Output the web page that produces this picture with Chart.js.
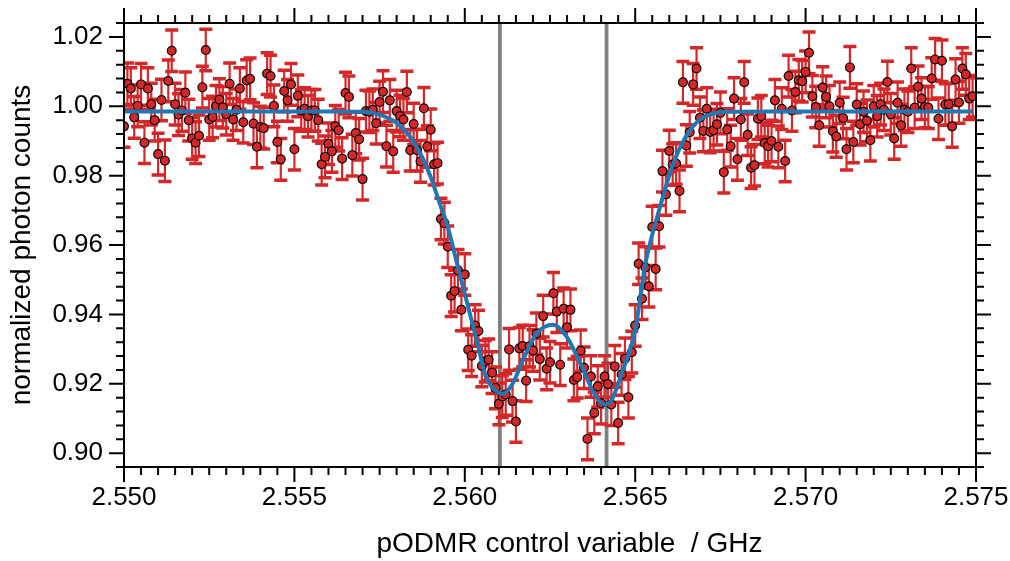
<!DOCTYPE html>
<html>
<head>
<meta charset="utf-8">
<script src="https://cdn.jsdelivr.net/npm/chart.js@4.4.0/dist/chart.umd.min.js"></script>
<style>
  html, body { margin: 0; padding: 0; background: #fff; }
  #wrap { width: 1010px; height: 561px; }
</style>
</head>
<body>
<div id="wrap"><canvas id="chart" width="1010" height="561"></canvas></div>
<script>
// sweep: 250 points, 0.1 MHz apart, starting at 2.5500 GHz
const freqStart = 2.5500;
const freqStep = 0.0001;
const counts = [
  0.9942, 1.0065, 1.0051, 0.9968, 1.0001, 1.0063, 0.9895, 1.0051, 1.0006, 0.9960,
  0.9862, 1.0018, 0.9843, 1.0073, 1.0160, 1.0006, 0.9976, 0.9988, 1.0039, 0.9960,
  0.9907, 0.9895, 0.9915, 1.0055, 1.0162, 0.9962, 0.9969, 1.0000, 1.0019, 0.9997,
  0.9977, 1.0065, 0.9962, 0.9990, 1.0051, 0.9954, 1.0074, 1.0079, 0.9950, 0.9883,
  0.9940, 0.9937, 1.0094, 1.0087, 1.0001, 0.9897, 0.9847, 1.0044, 1.0017, 1.0063,
  0.9876, 1.0030, 0.9988, 0.9993, 0.9971, 0.9988, 0.9988, 0.9960, 0.9833, 0.9854,
  0.9892, 0.9870, 0.9942, 0.9931, 0.9849, 1.0038, 1.0027, 0.9859, 0.9923, 0.9905,
  0.9790, 0.9986, 0.9984, 0.9990, 0.9951, 1.0012, 1.0042, 0.9885, 1.0017, 0.9870,
  0.9986, 0.9972, 0.9962, 1.0041, 0.9873, 0.9949, 0.9873, 0.9841, 0.9994, 0.9884,
  0.9932, 0.9833, 0.9836, 0.9675, 0.9663, 0.9595, 0.9454, 0.9467, 0.9527, 0.9413,
  0.9515, 0.9298, 0.9281, 0.9368, 0.9352, 0.9251, 0.9265, 0.9269, 0.9232, 0.9188,
  0.9142, 0.9163, 0.9169, 0.9299, 0.9150, 0.9091, 0.9302, 0.9309, 0.9209, 0.9308,
  0.9296, 0.9344, 0.9271, 0.9395, 0.9243, 0.9262, 0.9461, 0.9408, 0.9255, 0.9416,
  0.9363, 0.9413, 0.9211, 0.9219, 0.9295, 0.9246, 0.9041, 0.9221, 0.9116, 0.9192,
  0.9144, 0.9221, 0.9199, 0.9140, 0.9250, 0.9087, 0.9227, 0.9272, 0.9161, 0.9291,
  0.9368, 0.9546, 0.9445, 0.9535, 0.9481, 0.9652, 0.9531, 0.9654, 0.9813, 0.9746,
  0.9871, 0.9832, 0.9835, 0.9756, 1.0069, 0.9887, 0.9925, 1.0063, 1.0109, 0.9967,
  0.9929, 0.9993, 0.9926, 0.9931, 0.9948, 0.9981, 0.9810, 0.9933, 0.9885, 1.0022,
  0.9847, 0.9962, 1.0069, 0.9918, 0.9823, 0.9830, 0.9964, 0.9971, 0.9894, 0.9885,
  0.9900, 1.0017, 0.9883, 0.9993, 0.9842, 1.0087, 0.9988, 1.0041, 1.0075, 1.0072,
  1.0099, 1.0154, 1.0029, 0.9998, 0.9945, 1.0054, 1.0027, 1.0000, 0.9928, 0.9913,
  1.0010, 0.9966, 0.9876, 1.0112, 0.9897, 1.0005, 0.9948, 0.9984, 0.9958, 0.9902,
  1.0000, 0.9971, 1.0006, 0.9990, 1.0070, 0.9977, 0.9907, 1.0010, 0.9945, 0.9990,
  0.9984, 1.0109, 0.9996, 1.0056, 1.0022, 0.9998, 0.9996, 1.0080, 1.0135, 0.9964,
  1.0131, 1.0005, 1.0006, 0.9942, 1.0077, 1.0011, 1.0109, 1.0092, 1.0022, 1.0029
];
const countErr = 0.006;

// fitted curve
const fitFreq = [
  2.5500, 2.5560, 2.5570, 2.5575, 2.5580, 2.5584, 2.5587, 2.5590, 2.5592, 2.5595,
  2.5598, 2.5601, 2.5604, 2.5606, 2.5609, 2.5611, 2.5614, 2.5617, 2.5621, 2.5626,
  2.5630, 2.5634, 2.5638, 2.5641, 2.5643, 2.5646, 2.5650, 2.5653, 2.5657, 2.5661,
  2.5665, 2.5669, 2.5673, 2.5677, 2.5690, 2.5749
];
const fitCounts = [
  0.9985, 0.9985, 0.9984, 0.9976, 0.9952, 0.9911, 0.9863, 0.9796, 0.9738, 0.9652,
  0.9536, 0.9421, 0.9305, 0.9225, 0.9180, 0.9171, 0.9200, 0.9267, 0.9344, 0.9370,
  0.9334, 0.9257, 0.9171, 0.9140, 0.9151, 0.9229, 0.9355, 0.9546, 0.9700, 0.9830,
  0.9915, 0.9962, 0.9979, 0.9984, 0.9985, 0.9985
];

const guideFreqs = [2.56103, 2.56416];

const xTicks = [2.550, 2.555, 2.560, 2.565, 2.570, 2.575];
const yTicks = [0.90, 0.92, 0.94, 0.96, 0.98, 1.00, 1.02];
const xMin = 2.550, xMax = 2.575, xMinorStep = 0.0005;
const yMin = 0.896, yMax = 1.024, yMinorStep = 0.004;

const freqs = counts.map((_, i) => freqStart + i * freqStep);
const pts = counts.map((v, i) => ({ x: freqs[i], y: v }));
const fitPts = fitFreq.map((f, i) => ({ x: f, y: fitCounts[i] }));

const fontFamily = "'Liberation Sans', Arial, Helvetica, sans-serif";
const red = "#d62728";

const errorBars = {
  id: "errorBars",
  beforeDatasetsDraw(chart) {
    const { ctx, chartArea: a, scales: { x, y } } = chart;
    ctx.save();
    ctx.beginPath();
    ctx.rect(a.left, a.top, a.right - a.left, a.bottom - a.top);
    ctx.clip();
    // grey guide lines
    ctx.strokeStyle = "#808080";
    ctx.lineWidth = 3.8;
    for (let f of guideFreqs) {
      const px = x.getPixelForValue(f);
      ctx.beginPath();
      ctx.moveTo(px, a.top);
      ctx.lineTo(px, a.bottom);
      ctx.stroke();
    }
    ctx.strokeStyle = red;
    for (let i = 0; i < counts.length; i++) {
      const px = x.getPixelForValue(freqs[i]);
      const top = y.getPixelForValue(counts[i] + countErr);
      const bot = y.getPixelForValue(counts[i] - countErr);
      ctx.lineWidth = 2.2;
      ctx.beginPath();
      ctx.moveTo(px, top);
      ctx.lineTo(px, bot);
      ctx.stroke();
      ctx.lineWidth = 3.5;
      ctx.beginPath();
      ctx.moveTo(px - 6.5, top);
      ctx.lineTo(px + 6.5, top);
      ctx.moveTo(px - 6.5, bot);
      ctx.lineTo(px + 6.5, bot);
      ctx.stroke();
    }
    ctx.restore();
  }
};

const frame = {
  id: "frame",
  afterDraw(chart) {
    const { ctx, chartArea: a, scales: { x, y } } = chart;
    ctx.save();
    ctx.strokeStyle = "#000";
    ctx.lineWidth = 2;
    ctx.strokeRect(a.left, a.top, a.right - a.left, a.bottom - a.top);
    ctx.beginPath();
    const nx = Math.round((xMax - xMin) / xMinorStep);
    for (let k = 0; k <= nx; k++) {
      const px = x.getPixelForValue(xMin + k * xMinorStep);
      const len = k % 10 === 0 ? 15 : 8;
      ctx.moveTo(px, a.bottom);
      ctx.lineTo(px, a.bottom + len);
      ctx.moveTo(px, a.top);
      ctx.lineTo(px, a.top - len);
    }
    const ny = Math.round((yMax - yMin) / yMinorStep);
    for (let k = 0; k <= ny; k++) {
      const v = yMin + k * yMinorStep;
      const py = y.getPixelForValue(v);
      const major = Math.abs(v / 0.02 - Math.round(v / 0.02)) < 1e-6;
      const len = major ? 15 : 8;
      ctx.moveTo(a.left, py);
      ctx.lineTo(a.left - len, py);
      ctx.moveTo(a.right, py);
      ctx.lineTo(a.right + len, py);
    }
    ctx.stroke();
    ctx.restore();
  }
};

new Chart(document.getElementById("chart"), {
  type: "scatter",
  data: {
    datasets: [
      {
        type: "line",
        data: fitPts,
        borderColor: "#1f77b4",
        borderWidth: 4,
        pointRadius: 0,
        fill: false,
        cubicInterpolationMode: "monotone",
        order: 0
      },
      {
        data: pts,
        backgroundColor: red,
        borderColor: "#000",
        borderWidth: 1.2,
        pointRadius: 4.4,
        order: 1
      }
    ]
  },
  options: {
    responsive: false,
    animation: false,
    layout: { padding: { left: 0, right: 34, top: 23, bottom: 0 } },
    plugins: { legend: { display: false }, tooltip: { enabled: false } },
    scales: {
      x: {
        type: "linear",
        min: xMin,
        max: xMax,
        afterBuildTicks: (s) => { s.ticks = xTicks.map((v) => ({ value: v })); },
        afterFit: (s) => { s.height = 94; s.paddingLeft = 0; s.paddingRight = 0; },
        grid: { display: false, drawTicks: false },
        border: { display: false },
        ticks: {
          callback: (v) => Number(v).toFixed(3),
          font: { family: fontFamily, size: 26 },
          color: "#000",
          padding: 15,
          maxRotation: 0,
          autoSkip: false
        },
        title: {
          display: true,
          text: "     pODMR control variable  / GHz",
          font: { family: fontFamily, size: 28 },
          color: "#000",
          padding: { top: 0, bottom: 0 }
        }
      },
      y: {
        type: "linear",
        min: yMin,
        max: yMax,
        afterBuildTicks: (s) => { s.ticks = yTicks.map((v) => ({ value: v })); },
        afterFit: (s) => { s.width = 124; s.paddingTop = 0; s.paddingBottom = 0; },
        grid: { display: false, drawTicks: false },
        border: { display: false },
        ticks: {
          callback: (v) => Number(v).toFixed(2),
          font: { family: fontFamily, size: 26 },
          color: "#000",
          padding: 21,
          autoSkip: false
        },
        title: {
          display: true,
          text: "normalized photon counts",
          font: { family: fontFamily, size: 28 },
          color: "#000",
          padding: { top: 5, bottom: 0 }
        }
      }
    }
  },
  plugins: [errorBars, frame]
});
</script>
</body>
</html>
